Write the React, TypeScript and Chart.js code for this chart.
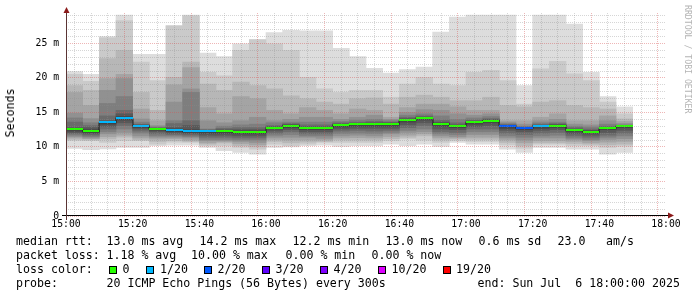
import React, { useEffect, useRef } from 'react';
import { Chart, registerables } from 'chart.js';

Chart.register(...registerables);

// ---------- data ----------
// start of each 5-minute bin, minutes after 15:00
const binStartMin = [0, 5, 10, 15, 20, 25, 30, 35, 40, 45, 50, 55, 60, 65, 70, 75, 80, 85, 90, 95, 100, 105, 110, 115, 120, 125, 130, 135, 140, 145, 150, 155, 160, 165];
const binMinutes = 5;

// 20 sorted ping round-trip times per bin (ms)
const sortedPings: number[][] = [
  [9.8, 10.9, 11.1, 11.3, 11.5, 11.7, 11.9, 12.1, 12.3, 12.5, 12.6, 12.7, 12.8, 13.6, 14.2, 14.9, 17.9, 18.9, 20.5, 20.9],
  [9.6, 10.9, 11.0, 11.2, 11.3, 11.5, 11.7, 11.9, 12.1, 12.2, 12.35, 12.5, 12.8, 13.1, 13.5, 14.1, 16.0, 18.2, 19.5, 20.5],
  [9.7, 10.65, 11.15, 11.5, 11.9, 12.2, 12.6, 13.0, 13.3, 13.5, 13.6, 13.7, 13.8, 14.5, 16.3, 18.2, 19.9, 22.8, 25.8, 26.0],
  [9.93, 10.9, 11.4, 11.7, 12.1, 12.6, 13.1, 13.5, 13.9, 14.1, 14.2, 14.4, 14.8, 15.3, 17.3, 19.9, 20.5, 24.0, 28.3, 29.1],
  [9.93, 10.9, 11.0, 11.3, 11.6, 12.0, 12.3, 12.6, 12.8, 13.0, 13.05, 13.1, 13.2, 13.3, 13.6, 14.05, 15.5, 17.9, 22.3, 23.4],
  [10.17, 10.4, 10.8, 11.15, 11.4, 11.6, 11.9, 12.2, 12.4, 12.52, 12.58, 12.6, 12.7, 12.8, 12.9, 13.1, 13.8, 15.3, 19.6, 23.4],
  [10.27, 10.7, 10.9, 11.2, 11.4, 11.6, 11.8, 12.0, 12.2, 12.35, 12.45, 12.6, 12.8, 13.4, 13.8, 16.5, 19.0, 20.1, 27.5, 27.6],
  [10.27, 10.65, 10.8, 11.0, 11.3, 11.5, 11.7, 11.9, 12.1, 12.2, 12.3, 12.5, 13.1, 13.8, 17.9, 18.4, 21.5, 22.3, 29.0, 29.1],
  [9.93, 10.17, 10.4, 10.6, 10.9, 11.1, 11.4, 11.7, 12.0, 12.2, 12.3, 12.35, 12.4, 12.5, 12.6, 13.8, 15.7, 19.1, 20.8, 23.6],
  [9.45, 10.2, 10.6, 10.75, 10.9, 11.1, 11.4, 11.7, 12.0, 12.2, 12.3, 12.4, 12.5, 12.7, 13.0, 13.5, 14.8, 18.2, 20.3, 23.1],
  [9.2, 9.93, 10.2, 10.5, 10.8, 11.0, 11.3, 11.6, 11.9, 12.1, 12.2, 12.3, 12.5, 12.8, 13.2, 13.8, 17.3, 19.4, 24.0, 24.95],
  [8.97, 9.69, 10.0, 10.3, 10.65, 11.0, 11.3, 11.6, 11.9, 12.1, 12.2, 12.3, 12.5, 12.8, 13.3, 14.3, 17.0, 18.9, 25.5, 25.6],
  [9.93, 10.4, 10.8, 11.1, 11.4, 11.7, 12.0, 12.3, 12.6, 12.75, 12.8, 12.85, 12.95, 13.1, 13.5, 13.8, 15.3, 18.4, 24.95, 26.55],
  [10.0, 10.17, 10.6, 11.0, 11.4, 11.8, 12.2, 12.5, 12.8, 13.05, 13.1, 13.15, 13.25, 13.4, 13.6, 14.0, 14.8, 17.4, 24.0, 26.9],
  [10.2, 10.4, 10.7, 11.0, 11.4, 11.6, 11.9, 12.2, 12.5, 12.7, 12.78, 12.85, 12.95, 13.2, 13.6, 14.3, 15.7, 17.0, 20.1, 26.8],
  [10.27, 10.65, 10.8, 11.0, 11.25, 11.6, 11.9, 12.2, 12.5, 12.66, 12.72, 12.8, 12.95, 13.2, 13.6, 14.3, 15.3, 16.5, 18.4, 26.8],
  [10.07, 10.65, 11.0, 11.3, 11.6, 11.95, 12.3, 12.6, 12.9, 13.1, 13.17, 13.25, 13.35, 13.5, 13.7, 14.0, 14.8, 16.2, 17.9, 24.3],
  [10.17, 10.65, 11.0, 11.35, 11.7, 12.0, 12.4, 12.7, 13.0, 13.25, 13.3, 13.35, 13.45, 13.6, 13.9, 14.3, 15.5, 17.0, 18.2, 23.1],
  [10.17, 10.65, 11.0, 11.3, 11.6, 11.95, 12.3, 12.7, 13.0, 13.3, 13.35, 13.4, 13.5, 13.7, 14.0, 14.6, 15.3, 17.1, 18.2, 21.4],
  [10.4, 10.9, 11.2, 11.5, 11.9, 12.1, 12.4, 12.7, 13.0, 13.3, 13.35, 13.4, 13.5, 13.6, 13.8, 14.0, 14.3, 16.2, 17.2, 20.7],
  [10.17, 11.15, 11.4, 11.7, 12.1, 12.4, 12.8, 13.2, 13.6, 13.85, 13.95, 14.0, 14.1, 14.3, 14.6, 15.0, 15.7, 17.2, 19.1, 21.2],
  [10.4, 11.0, 11.6, 11.9, 12.2, 12.6, 13.1, 13.5, 13.9, 14.1, 14.2, 14.25, 14.35, 14.5, 14.8, 15.4, 16.2, 17.5, 20.1, 21.55],
  [10.07, 10.65, 11.0, 11.3, 11.6, 11.9, 12.2, 12.6, 13.0, 13.28, 13.37, 13.45, 13.6, 13.9, 14.5, 15.3, 16.2, 17.2, 19.1, 26.65],
  [10.65, 10.9, 11.15, 11.3, 11.5, 11.8, 12.1, 12.5, 12.8, 12.93, 13.03, 13.1, 13.2, 13.5, 14.0, 14.8, 15.8, 16.7, 18.9, 28.8],
  [10.4, 10.8, 11.1, 11.4, 11.8, 12.2, 12.6, 12.95, 13.3, 13.52, 13.6, 13.65, 13.75, 13.9, 14.2, 14.6, 15.3, 16.7, 20.8, 29.1],
  [10.4, 10.8, 11.1, 11.4, 11.8, 12.2, 12.6, 13.1, 13.5, 13.77, 13.83, 13.88, 13.95, 14.1, 14.4, 14.8, 15.3, 17.2, 21.1, 29.1],
  [9.69, 10.3, 10.65, 11.0, 11.3, 11.6, 12.0, 12.4, 12.7, 12.94, 13.02, 13.07, 13.15, 13.25, 13.4, 13.6, 13.8, 16.0, 19.6, 29.1],
  [9.2, 9.8, 10.17, 10.6, 11.0, 11.4, 11.8, 12.2, 12.5, 12.66, 12.72, 12.76, 12.82, 12.9, 13.0, 13.3, 13.8, 15.8, 16.2, 18.9],
  [9.93, 10.4, 10.6, 10.9, 11.3, 11.6, 12.0, 12.4, 12.7, 12.94, 13.02, 13.07, 13.15, 13.3, 13.5, 13.8, 14.3, 16.5, 21.3, 29.1],
  [9.93, 10.4, 10.6, 10.9, 11.3, 11.7, 12.1, 12.5, 12.8, 13.05, 13.1, 13.15, 13.25, 13.4, 13.6, 14.0, 14.8, 16.7, 22.4, 29.1],
  [9.69, 10.17, 10.5, 10.8, 11.1, 11.3, 11.6, 11.9, 12.2, 12.36, 12.44, 12.5, 12.6, 12.8, 13.0, 13.3, 13.8, 16.0, 20.6, 27.8],
  [9.69, 10.17, 10.4, 10.6, 10.9, 11.1, 11.4, 11.7, 12.0, 12.17, 12.25, 12.3, 12.4, 12.6, 12.9, 13.2, 13.8, 15.7, 19.6, 20.8],
  [8.97, 9.93, 10.3, 10.7, 11.1, 11.4, 11.7, 12.1, 12.5, 12.66, 12.72, 12.77, 12.85, 13.0, 13.3, 13.8, 14.5, 15.5, 16.5, 17.3],
  [9.2, 10.1, 10.4, 10.8, 11.2, 11.6, 12.0, 12.4, 12.8, 12.96, 13.0, 13.02, 13.05, 13.1, 13.2, 13.4, 13.7, 14.05, 14.8, 15.8],
];

// median rtt per bin (ms)
const medianRtt = [12.55, 12.26, 13.56, 14.15, 13.03, 12.55, 12.40, 12.26, 12.26, 12.26, 12.16, 12.16, 12.79, 13.08, 12.74, 12.69, 13.13, 13.27, 13.32, 13.32, 13.9, 14.15, 13.32, 12.98, 13.56, 13.8, 12.98, 12.69, 12.98, 13.08, 12.40, 12.21, 12.69, 12.98];

// lost pings (of 20) per bin
const lostPings = [0, 0, 1, 1, 1, 0, 1, 1, 1, 0, 0, 0, 0, 0, 0, 0, 0, 0, 0, 0, 0, 0, 0, 0, 0, 0, 2, 2, 1, 0, 0, 0, 0, 0];

// loss legend
const lossLabels = ['0', '1/20', '2/20', '3/20', '4/20', '10/20', '19/20'];
const lossThresholds = [0, 1, 2, 3, 4, 10, 19];
const lossColors = ['#26ff00', '#00b8ff', '#0059ff', '#5e00ff', '#7e00ff', '#dd00ff', '#ff0000'];

// axis tick labels
const xTickValues = [0, 20, 40, 60, 80, 100, 120, 140, 160, 180];
const xTickLabels = ['15:00', '15:20', '15:40', '16:00', '16:20', '16:40', '17:00', '17:20', '17:40', '18:00'];
const yTickValues = [0, 5, 10, 15, 20, 25];
const yTickLabels = ['0', '5 m', '10 m', '15 m', '20 m', '25 m'];

const xMaxMin = 180;
const yMaxMs = 29.4;

// ---------- styling ----------
const MONO = '"DejaVu Sans Mono", "Liberation Mono", monospace';
const MINOR_GRID = 'rgba(140,140,140,0.36)';
const MAJOR_GRID = 'rgba(215,80,80,0.42)';
const ARROW = '#8b1a1a';

function smokeGray(layer: number) {
  // smokeping: int(190/half*(half-ibot))+50 with half=10, ibot=layer+1
  const v = Math.floor((190 / 10) * (10 - (layer + 1))) + 50;
  return `rgb(${v},${v},${v})`;
}

function lossColor(lost: number) {
  let c = lossColors[0];
  for (let i = 0; i < lossThresholds.length; i++) if (lost >= lossThresholds[i]) c = lossColors[i];
  return c;
}

const medianPlugin = {
  id: 'smokeMedian',
  afterDatasetsDraw(chart: any) {
    const { ctx, scales } = chart;
    const xs = scales.x;
    const ys = scales.y;
    ctx.save();
    // dark median line with vertical connectors
    ctx.strokeStyle = '#202020';
    ctx.lineWidth = 1;
    ctx.beginPath();
    binStartMin.forEach((t, i) => {
      const x0 = Math.round(xs.getPixelForValue(t));
      const x1 = Math.round(xs.getPixelForValue(t + binMinutes));
      const y = Math.round(ys.getPixelForValue(medianRtt[i])) + 0.5;
      if (i === 0) ctx.moveTo(x0, y);
      else ctx.lineTo(x0, y);
      ctx.lineTo(x1, y);
    });
    ctx.stroke();
    // loss-coloured median bars
    binStartMin.forEach((t, i) => {
      const x0 = Math.round(xs.getPixelForValue(t));
      const x1 = Math.round(xs.getPixelForValue(t + binMinutes));
      const y = Math.round(ys.getPixelForValue(medianRtt[i]));
      ctx.fillStyle = lossColor(lostPings[i]);
      ctx.fillRect(x0, y - 1, x1 - x0, 2);
    });
    ctx.restore();
  },
};

const axesPlugin = {
  id: 'rrdAxes',
  afterDraw(chart: any) {
    const { ctx, chartArea } = chart;
    const { left, right, top, bottom } = chartArea;
    const ax = Math.round(left) + 0.5;
    const ay = Math.round(bottom) - 0.5;
    ctx.save();
    ctx.lineWidth = 1;
    ctx.strokeStyle = '#000000';
    ctx.beginPath();
    ctx.moveTo(left - 4, ay);
    ctx.lineTo(right + 4, ay);
    ctx.stroke();
    ctx.strokeStyle = '#5a3434';
    ctx.beginPath();
    ctx.moveTo(ax, bottom + 4);
    ctx.lineTo(ax, top - 4);
    ctx.stroke();
    ctx.fillStyle = ARROW;
    ctx.beginPath();
    ctx.moveTo(ax, top - 6);
    ctx.lineTo(ax - 3, top);
    ctx.lineTo(ax + 3, top);
    ctx.closePath();
    ctx.fill();
    ctx.beginPath();
    ctx.moveTo(right + 8, ay);
    ctx.lineTo(right + 2, ay - 3);
    ctx.lineTo(right + 2, ay + 3);
    ctx.closePath();
    ctx.fill();
    ctx.restore();
  },
};

function buildDatasets() {
  const sets: any[] = [];
  for (let k = 0; k < 10; k++) {
    sets.push({
      type: 'bar',
      label: `smoke${k + 1}`,
      data: binStartMin.map((t, i) => ({ x: t + binMinutes / 2, y: [sortedPings[i][k], sortedPings[i][19 - k]] })),
      backgroundColor: smokeGray(k),
      borderWidth: 0,
      grouped: false,
      barPercentage: 1,
      categoryPercentage: 1,
      order: 10 - k,
    });
  }
  return sets;
}

const legendLines: { text: string; x: number; top: number }[] = [
  { text: 'median rtt:', x: 16, top: 234 },
  { text: '13.0 ms avg', x: 106.5, top: 234 },
  { text: '14.2 ms max', x: 199.5, top: 234 },
  { text: '12.2 ms min', x: 292.5, top: 234 },
  { text: '13.0 ms now', x: 385.5, top: 234 },
  { text: '0.6 ms sd', x: 478.5, top: 234 },
  { text: '23.0', x: 557.5, top: 234 },
  { text: 'am/s', x: 606, top: 234 },
  { text: 'packet loss:', x: 16, top: 248 },
  { text: '1.18 % avg', x: 106.5, top: 248 },
  { text: '10.00 % max', x: 191, top: 248 },
  { text: '0.00 % min', x: 285.5, top: 248 },
  { text: '0.00 % now', x: 371.5, top: 248 },
  { text: 'loss color:', x: 16, top: 262 },
  { text: 'probe:', x: 16, top: 276 },
  { text: '20 ICMP Echo Pings (56 Bytes) every 300s', x: 106.5, top: 276 },
  { text: 'end: Sun Jul  6 18:00:00 2025', x: 477.5, top: 276 },
];
const lossBoxX = [108.5, 146, 204, 261.5, 319.5, 377.5, 442.5];
const lossLabelX = [122.5, 160, 217.5, 275.5, 333.5, 391.5, 456];

export default function App() {
  const canvasRef = useRef<HTMLCanvasElement>(null);

  useEffect(() => {
    const canvas = canvasRef.current;
    if (!canvas) return;
    const chart = new Chart(canvas, {
      type: 'bar',
      data: { datasets: buildDatasets() },
      options: {
        animation: false,
        responsive: false,
        devicePixelRatio: 1,
        layout: { padding: { left: 0, right: 31, top: 13, bottom: 61 } },
        plugins: { legend: { display: false }, tooltip: { enabled: false } },
        scales: {
          x: {
            type: 'linear',
            min: 0,
            max: xMaxMin,
            offset: false,
            afterFit: (s: any) => { s.height = 20; },
            grid: {
              color: (c: any) => (c.tick && c.tick.value % 20 === 0 ? MAJOR_GRID : MINOR_GRID),
              drawTicks: false,
              z: 1,
            },
            border: { display: false, dash: [1, 1] },
            ticks: {
              stepSize: 5,
              autoSkip: false,
              maxRotation: 0,
              includeBounds: false,
              padding: 3,
              color: '#000',
              font: { family: MONO, size: 9.75 },
              callback: (v: any) => {
                const idx = xTickValues.indexOf(Number(v));
                return idx >= 0 ? xTickLabels[idx] : '';
              },
            },
          },
          y: {
            type: 'linear',
            min: 0,
            max: yMaxMs,
            afterFit: (s: any) => { s.width = 66; },
            grid: {
              color: (c: any) => (c.tick && c.tick.value % 5 === 0 ? MAJOR_GRID : MINOR_GRID),
              drawTicks: false,
              z: 1,
            },
            border: { display: false, dash: [1, 1] },
            ticks: {
              stepSize: 1,
              autoSkip: false,
              includeBounds: false,
              padding: 7,
              color: '#000',
              font: { family: MONO, size: 9.75 },
              callback: (v: any) => {
                const idx = yTickValues.indexOf(Number(v));
                return idx >= 0 ? yTickLabels[idx] : '';
              },
            },
          },
        },
      } as any,
      plugins: [medianPlugin, axesPlugin],
    });
    return () => chart.destroy();
  }, []);

  const textStyle: React.CSSProperties = {
    position: 'absolute',
    fontFamily: MONO,
    fontSize: '11.6px',
    lineHeight: '14px',
    whiteSpace: 'pre',
    color: '#000',
  };

  return (
    <div style={{ position: 'fixed', left: 0, top: 0, width: 697, height: 297, background: '#fff', overflow: 'hidden' }}>
      <canvas ref={canvasRef} width={697} height={297} style={{ position: 'absolute', left: 0, top: 0, width: 697, height: 297 }} />
      <div
        style={{
          ...textStyle,
          left: 10,
          top: 113,
          transform: 'translate(-50%, -50%) rotate(-90deg)',
        }}
      >
        Seconds
      </div>
      <div
        style={{
          position: 'absolute',
          left: 683,
          top: 5,
          writingMode: 'vertical-rl',
          fontFamily: MONO,
          fontSize: '8.2px',
          lineHeight: '10px',
          color: '#b4b4b4',
          whiteSpace: 'pre',
        }}
      >
        RRDTOOL / TOBI OETIKER
      </div>
      {legendLines.map((l, i) => (
        <div key={i} style={{ ...textStyle, left: l.x, top: l.top }}>
          {l.text}
        </div>
      ))}
      {lossLabels.map((lab, i) => (
        <React.Fragment key={lab}>
          <div
            style={{
              position: 'absolute',
              left: lossBoxX[i],
              top: 265.5,
              width: 6,
              height: 6,
              background: lossColors[i],
              border: '1px solid #000',
            }}
          />
          <div style={{ ...textStyle, left: lossLabelX[i], top: 262 }}>{lab}</div>
        </React.Fragment>
      ))}
    </div>
  );
}
